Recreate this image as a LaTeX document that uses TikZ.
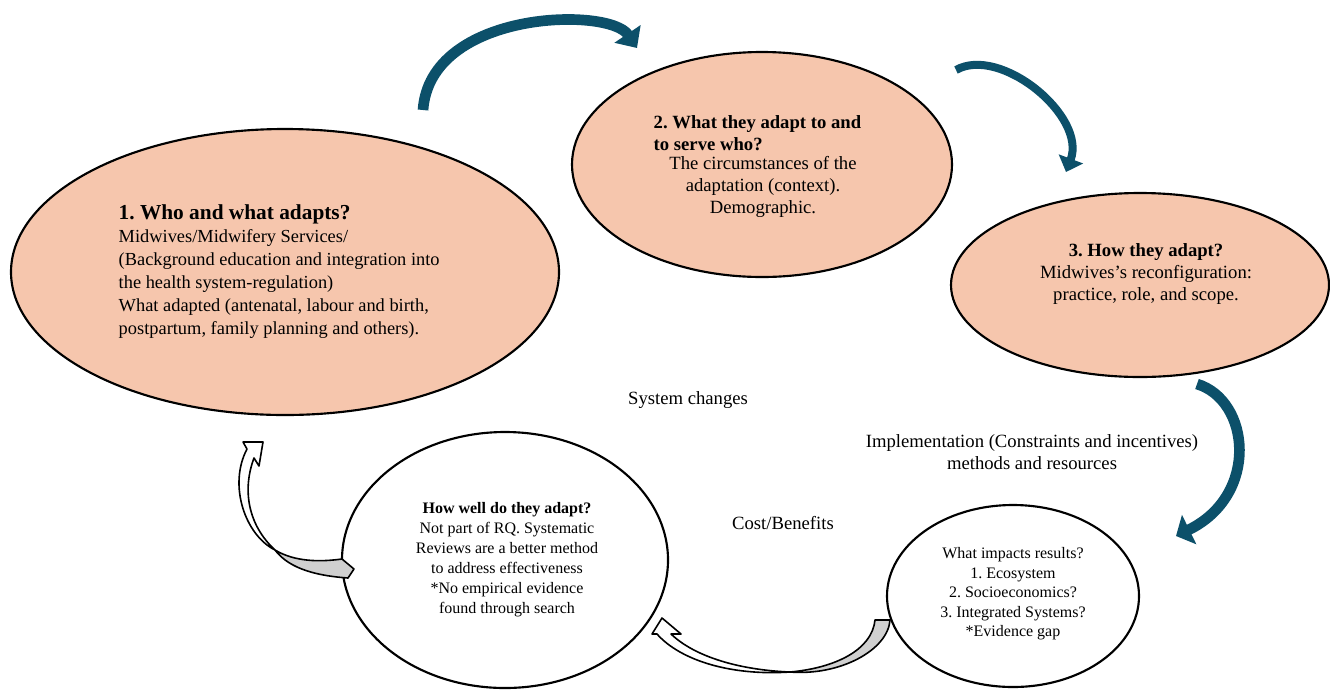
\documentclass[tikz,border=0pt]{standalone}
\usepackage{fontspec}
\setmainfont{Liberation Serif}
\usetikzlibrary{shapes.geometric,arrows.meta}
\definecolor{peach}{RGB}{246,198,173}
\definecolor{petrol}{RGB}{12,80,106}
\definecolor{shade}{RGB}{208,208,208}
\frenchspacing
\begin{document}
\begin{tikzpicture}[x=0.75pt,y=-0.75pt,
    bubble/.style={ellipse,draw,line width=1.6pt,inner sep=0pt},
    warm/.style={bubble,fill=peach},
    tealflow/.style={petrol,line width=#1},
    block/.style={draw,line width=1.2pt,line join=round},
    txt/.style={align=center,font=\fontsize{14}{16.5}\selectfont}]
    \useasboundingbox (0,0) rectangle (1330,690);
    \node[warm,minimum width=411pt,minimum height=214.5pt] (who) at (285,272) {};
    \node[warm,minimum width=285pt,minimum height=168.75pt] (what) at (762,164.5) {};
    \node[warm,minimum width=283.5pt,minimum height=138pt] (how) at (1140,285) {};
    \node[bubble,minimum width=244.5pt,minimum height=192pt] (well) at (505,560) {};
    \node[bubble,minimum width=189pt,minimum height=136.5pt] (impact) at (1013,596) {};
    \node[anchor=west,align=left,font=\fontsize{13.8}{17.25}\selectfont] (whotxt) at (114,272)
        {{\fontsize{16}{17.25}\selectfont\bfseries 1. Who and what adapts?}\\Midwives/Midwifery Services/\\(Background education and integration into\\the health system-regulation)\\What adapted (antenatal, labour and birth,\\postpartum, family planning and others).};
    \node[anchor=west,align=left,font=\fontsize{14}{16.5}\selectfont\bfseries] (whathead) at (649,133)
        {2. What they adapt to and\\to serve who?};
    \node[txt] (whattxt) at (763,187) {The circumstances of the\\adaptation (context).\\Demographic.};
    \node[txt] (howtxt) at (1146,274) {\textbf{3. How they adapt?}\\Midwives’s reconfiguration:\\practice, role, and scope.};
    \node[align=center,font=\fontsize{12}{15}\selectfont] (welltxt) at (507,560)
        {\textbf{How well do they adapt?}\\Not part of RQ. Systematic\\Reviews are a better method\\to address effectiveness\\*No empirical evidence\\found through search};
    \node[align=center,font=\fontsize{12}{14.6}\selectfont] (impacttxt) at (1013,594)
        {What impacts results?\\1. Ecosystem\\2. Socioeconomics?\\3. Integrated Systems?\\*Evidence gap};
    \node[txt] (syschg) at (688,400) {System changes};
    \node[txt] (impl) at (1032,452.5) {Implementation (Constraints and incentives)\\methods and resources};
    \node[txt] (cost) at (783,523) {Cost/Benefits};
    \coordinate (a1s) at (423,110);
    \coordinate (a1e) at (637,48);
    \coordinate (a2s) at (956,70);
    \coordinate (a2e) at (1066,172);
    \coordinate (a3s) at (1197,384);
    \coordinate (a3e) at (1176,536);
    \draw[tealflow=8pt,-{Triangle[length=12.75pt,width=23pt]}] (a1s) .. controls (430,10) and (609,6.5) .. (a1e);
    \draw[tealflow=6pt,-{Triangle[length=10.5pt,width=19pt]}] (a2s) .. controls (1000,45) and (1087,116) .. (a2e);
    \draw[tealflow=8pt,-{Triangle[length=11pt,width=24pt]}] (a3s) .. controls (1250,400) and (1260,495) .. (a3e);
    \draw[block,fill=white] (657,634) -- (652,634) -- (662,618) -- (681,634) -- (671,634)
        .. controls (695,657) and (740,670) .. (790,672) .. controls (730,676) and (680,660) .. (657,634) -- cycle;
    \draw[block,fill=shade] (790,672) .. controls (835,668) and (872,650) .. (875,620) -- (890,620)
        .. controls (888,650) and (840,676) .. (790,672) -- cycle;
    \draw[block,fill=white] (247,449) -- (243,442) -- (263,442) -- (259,466) -- (254,458)
        .. controls (242,490) and (248,525) .. (275,550) .. controls (245,535) and (228,485) .. (247,449) -- cycle;
    \draw[block,fill=shade] (275,550) .. controls (295,562) and (320,562) .. (342,559) -- (354,569) -- (348,578)
        .. controls (320,576) and (290,570) .. (275,550) -- cycle;
\end{tikzpicture}
\end{document}
